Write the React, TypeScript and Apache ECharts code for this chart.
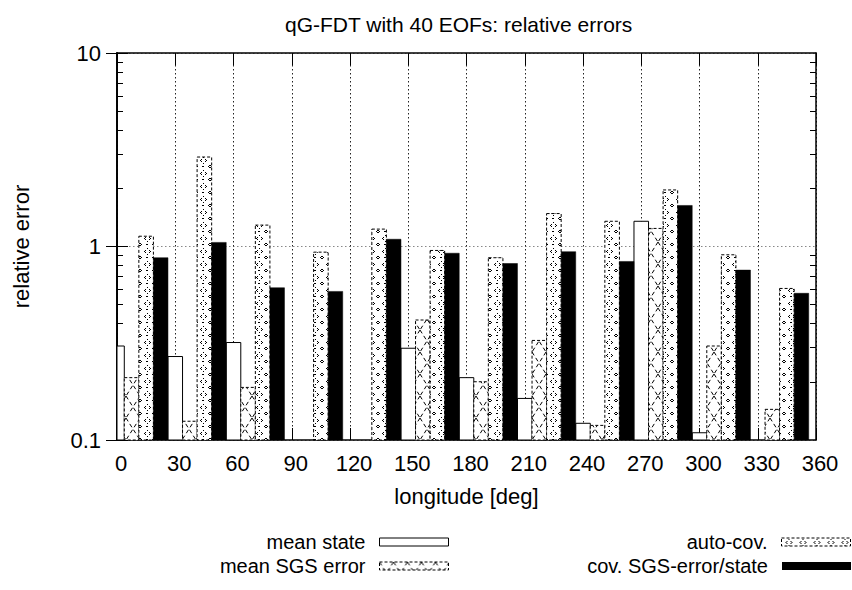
import React, { useEffect, useRef } from 'react';
import * as echarts from 'echarts';

// ---- data ----
const longitudes = [0, 30, 60, 90, 120, 150, 180, 210, 240, 270, 300, 330];
const meanState = [0.306, 0.27, 0.319, null, null, 0.298, 0.21, 0.164, 0.122, 1.35, 0.109, null];
const meanSgsError = [0.21, 0.125, 0.187, null, null, 0.417, 0.2, 0.327, 0.119, 1.24, 0.306, 0.144];
const autoCov = [1.13, 2.9, 1.29, 0.935, 1.23, 0.954, 0.875, 1.48, 1.35, 1.96, 0.906, 0.607];
const covSgsState = [0.875, 1.05, 0.612, 0.586, 1.09, 0.923, 0.817, 0.94, 0.837, 1.63, 0.755, 0.573];
const seriesNames = ['mean state', 'mean SGS error', 'auto-cov.', 'cov. SGS-error/state'];
const xTickLabels = [0, 30, 60, 90, 120, 150, 180, 210, 240, 270, 300, 330, 360];
const yTickLabels = [0.1, 1, 10];
const yMinorTicks = [0.2, 0.3, 0.4, 0.5, 0.6, 0.7, 0.8, 0.9, 2, 3, 4, 5, 6, 7, 8, 9];

const FONT = "'Liberation Sans', Arial, Helvetica, sans-serif";
const BAR_OFFSETS = [0, 7.5, 15, 22.5];
const BAR_HALF = 3.75;
const Y_MIN = 0.1;
const Y_MAX = 10;

function makeCrossPattern(): HTMLCanvasElement {
  const c = document.createElement('canvas');
  c.width = 14;
  c.height = 22;
  const g = c.getContext('2d')!;
  g.fillStyle = '#fff';
  g.fillRect(0, 0, 14, 22);
  g.strokeStyle = '#000';
  g.lineWidth = 1;
  g.setLineDash([4, 3]);
  g.beginPath();
  g.moveTo(0, 0);
  g.lineTo(14, 22);
  g.moveTo(14, 0);
  g.lineTo(0, 22);
  g.stroke();
  return c;
}

function makeDotPattern(): HTMLCanvasElement {
  const c = document.createElement('canvas');
  c.width = 14;
  c.height = 13;
  const g = c.getContext('2d')!;
  g.fillStyle = '#fff';
  g.fillRect(0, 0, 14, 13);
  g.fillStyle = '#000';
  const dots: number[][] = [
    [7, 1], [5, 3], [9, 3], [4, 4], [10, 4], [5, 5], [9, 5], [7, 7],
    [0, 9], [1, 10], [0, 11], [13, 9], [12, 10], [13, 11],
  ];
  dots.forEach(([x, y]) => g.fillRect(x, y, 1, 1));
  g.fillRect(6, 10, 2, 1);
  return c;
}

export default function App() {
  const ref = useRef<HTMLDivElement>(null);

  useEffect(() => {
    if (!ref.current) return;
    const chart = echarts.init(ref.current, undefined, { renderer: 'svg' });

    const crossFill = { image: makeCrossPattern(), repeat: 'repeat' };
    const dotFill = { image: makeDotPattern(), repeat: 'repeat' };

    const styles: any[] = [
      { fill: '#fff', stroke: '#000', lineWidth: 1 },
      { fill: crossFill, stroke: '#000', lineWidth: 1, lineDash: [3, 2] },
      { fill: dotFill, stroke: '#000', lineWidth: 1, lineDash: [3, 2] },
      { fill: '#000', stroke: '#000', lineWidth: 0.5 },
    ];
    const legendItemStyles: any[] = [
      { color: '#fff', borderColor: '#000', borderWidth: 1 },
      { color: crossFill, borderColor: '#000', borderWidth: 1, borderType: [3, 2] },
      { color: dotFill, borderColor: '#000', borderWidth: 1, borderType: [3, 2] },
      { color: '#000', borderColor: '#000', borderWidth: 0 },
    ];
    const values = [meanState, meanSgsError, autoCov, covSgsState];

    const makeRender = (style: any) => (params: any, api: any) => {
      const x = api.value(0);
      const y = api.value(1);
      const p0 = api.coord([x - BAR_HALF, y]);
      const p1 = api.coord([x + BAR_HALF, Y_MIN]);
      const cs = params.coordSys;
      const shape = echarts.graphic.clipRectByRect(
        { x: p0[0], y: p0[1], width: p1[0] - p0[0], height: p1[1] - p0[1] },
        { x: cs.x, y: cs.y, width: cs.width, height: cs.height }
      );
      if (!shape) return null;
      return { type: 'rect', shape, style };
    };

    const series = seriesNames.map((name, i) => ({
      name,
      type: 'custom',
      xAxisIndex: 0,
      yAxisIndex: 0,
      encode: { x: 0, y: 1 },
      itemStyle: legendItemStyles[i],
      renderItem: makeRender(styles[i]),
      data: longitudes
        .map((lon, j) => [lon + BAR_OFFSETS[i], values[i][j]])
        .filter((d) => d[1] != null),
    }));

    const legendBase = {
      orient: 'vertical',
      align: 'right',
      icon: 'rect',
      itemWidth: 69,
      itemHeight: 8,
      padding: 0,
      selectedMode: false,
      textStyle: {
        fontSize: 20,
        lineHeight: 20,
        color: '#000',
        fontFamily: FONT,
        padding: [0, 9, 0, 0],
      },
    };
    const legendPos = [
      { right: 403, top: 532 },
      { right: 403, top: 556 },
      { right: 1, top: 532 },
      { right: 1, top: 556 },
    ];

    const tickLine = { lineStyle: { color: '#000', width: 1 } };
    const axisLineStyle = { show: true, lineStyle: { color: '#000', width: 1.5 } };

    const logAxis = (extra: any) => ({
      type: 'log',
      logBase: 10,
      min: Y_MIN,
      max: Y_MAX,
      axisLine: axisLineStyle,
      splitLine: { show: false },
      axisLabel: { show: false },
      ...extra,
    });

    chart.setOption({
      animation: false,
      backgroundColor: '#fff',
      textStyle: { fontFamily: FONT },
      title: {
        text: 'qG-FDT with 40 EOFs: relative errors',
        left: 280,
        top: 9,
        textStyle: { fontSize: 21, fontWeight: 'normal', color: '#000', fontFamily: FONT },
      },
      legend: seriesNames.map((name, i) => ({
        ...legendBase,
        ...legendPos[i],
        data: [{ name, itemStyle: legendItemStyles[i] }],
      })),
      grid: { left: 117, right: 36, top: 53, bottom: 150, containLabel: false },
      xAxis: [
        {
          type: 'value',
          min: 0,
          max: 360,
          interval: 30,
          position: 'bottom',
          name: 'longitude [deg]',
          nameLocation: 'middle',
          nameGap: 45,
          nameTextStyle: { fontSize: 22, color: '#000', fontFamily: FONT },
          axisLine: axisLineStyle,
          axisTick: { show: true, inside: true, length: 12, ...tickLine },
          axisLabel: {
            fontSize: 22,
            color: '#000',
            margin: 12,
            padding: [0, 0, 0, 8],
            showMinLabel: true,
            showMaxLabel: true,
            formatter: (v: number) => (xTickLabels.includes(v) ? String(v) : ''),
          },
          splitLine: { show: true, lineStyle: { color: '#222', type: [1.5, 2.5], width: 1 } },
        },
        {
          type: 'value',
          min: 0,
          max: 360,
          interval: 30,
          position: 'top',
          axisLine: axisLineStyle,
          axisTick: { show: true, inside: true, length: 12, ...tickLine },
          axisLabel: { show: false },
          splitLine: { show: false },
        },
      ],
      yAxis: [
        logAxis({
          position: 'left',
          name: 'relative error',
          nameLocation: 'middle',
          nameRotate: 90,
          nameGap: 85,
          nameTextStyle: { fontSize: 22, color: '#000', fontFamily: FONT },
          axisTick: { show: true, inside: true, length: 11, ...tickLine },
          axisLabel: {
            show: true,
            fontSize: 22,
            color: '#000',
            margin: 16,
            formatter: (v: number) => {
              const m = yTickLabels.find((t) => Math.abs(t - v) < 1e-9);
              return m != null ? String(m) : '';
            },
          },
          splitLine: { show: true, lineStyle: { color: '#888', type: [1.5, 2.5], width: 1 } },
        }),
        logAxis({
          position: 'right',
          axisTick: { show: true, inside: true, length: 11, ...tickLine },
        }),
        logAxis({
          position: 'left',
          axisTick: { show: true, inside: true, length: 6, customValues: yMinorTicks, ...tickLine },
        }),
        logAxis({
          position: 'right',
          axisTick: { show: true, inside: true, length: 6, customValues: yMinorTicks, ...tickLine },
        }),
      ],
      series,
    });

    return () => chart.dispose();
  }, []);

  return (
    <div
      ref={ref}
      style={{ position: 'fixed', left: 0, top: 0, width: 852, height: 590, background: '#fff' }}
    />
  );
}
